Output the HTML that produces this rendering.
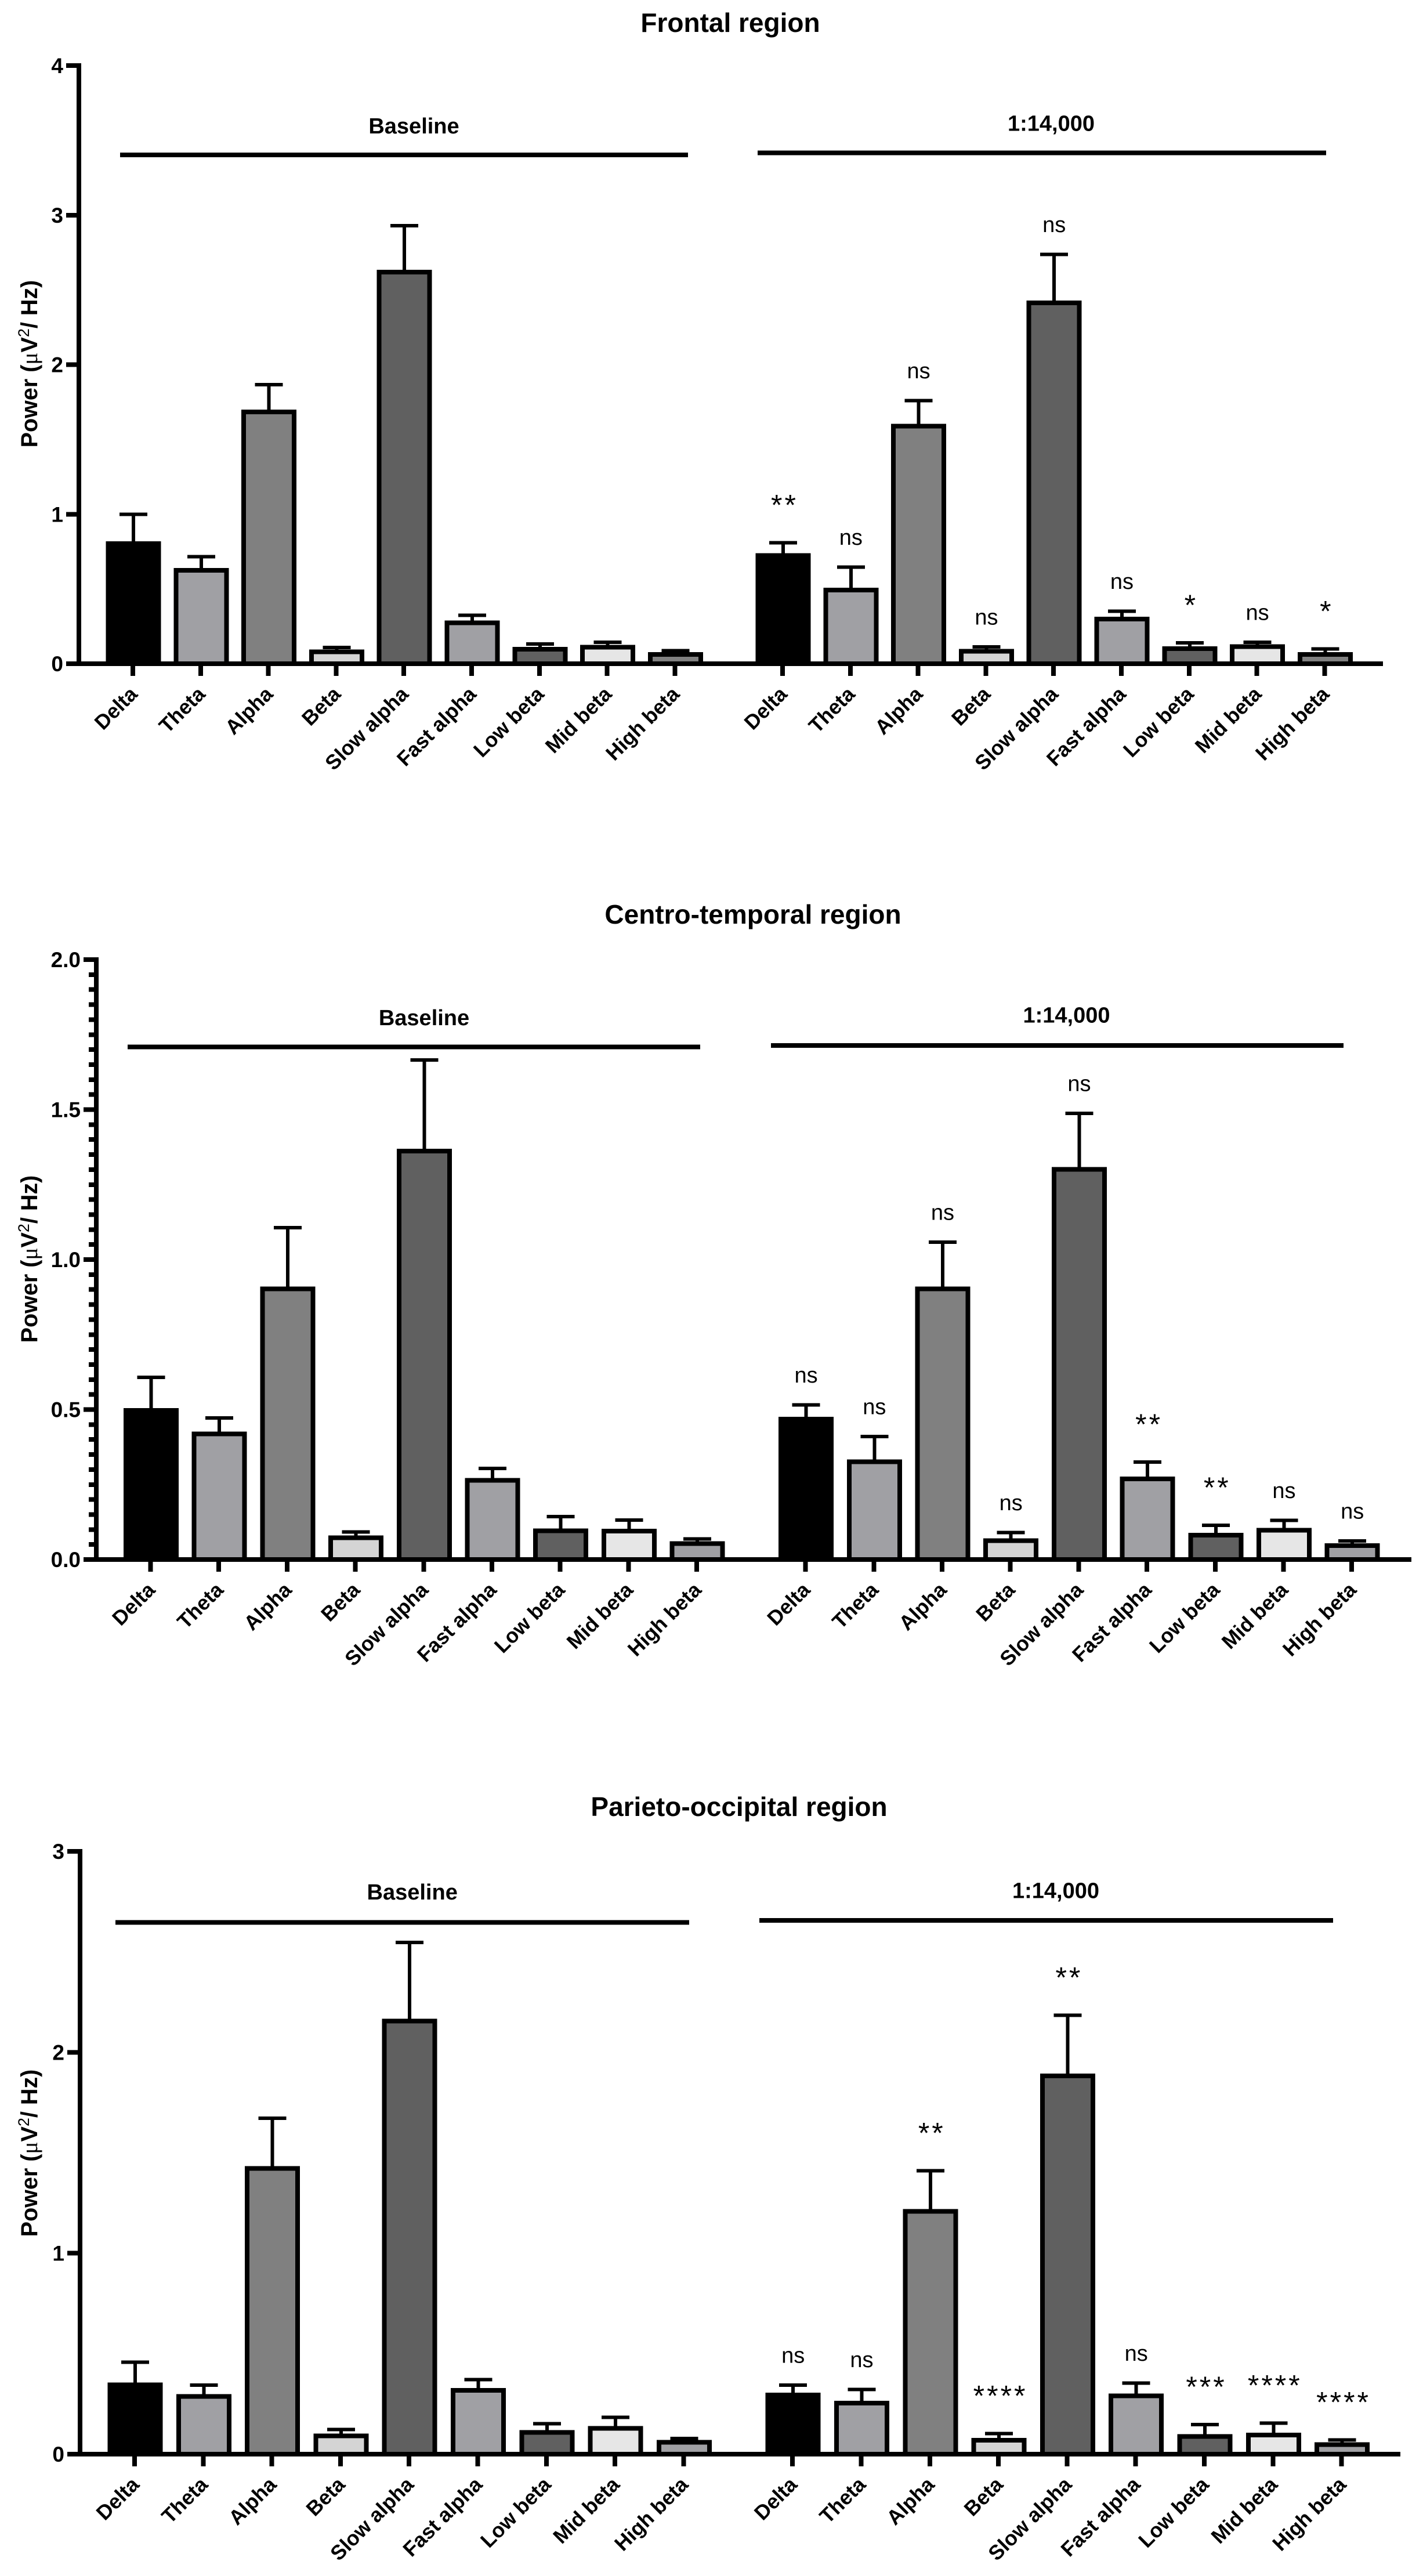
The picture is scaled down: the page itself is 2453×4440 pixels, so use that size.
<!DOCTYPE html>
<html lang="en">
<head>
<meta charset="utf-8">
<title>EEG power by region</title>
<style>
  html, body { margin: 0; padding: 0; background: #fff; }
  svg { display: block; font-family: "Liberation Sans", Arial, sans-serif; }
  .b { font-weight: 700; }
</style>
</head>
<body>
<svg id="figure" xmlns="http://www.w3.org/2000/svg" width="2453" height="4440" viewBox="0 0 2453 4440"></svg>
<script>
var categories = ["Delta", "Theta", "Alpha", "Beta", "Slow alpha", "Fast alpha", "Low beta", "Mid beta", "High beta"];

var frontalTicks = ["0", "1", "2", "3", "4"];
var frontalBaselineMeans = [0.804, 0.624, 1.684, 0.08, 2.618, 0.274, 0.097, 0.111, 0.062];
var frontalBaselineSem = [0.196, 0.091, 0.183, 0.029, 0.312, 0.049, 0.035, 0.033, 0.026];
var frontalDilutionMeans = [0.724, 0.492, 1.588, 0.083, 2.413, 0.298, 0.101, 0.114, 0.062];
var frontalDilutionSem = [0.085, 0.154, 0.172, 0.03, 0.324, 0.053, 0.039, 0.03, 0.036];
var frontalSignificance = ["**", "ns", "ns", "ns", "ns", "ns", "*", "ns", "*"];

var centroTicks = ["0.0", "0.5", "1.0", "1.5", "2.0"];
var centroBaselineMeans = [0.497, 0.419, 0.902, 0.073, 1.362, 0.264, 0.096, 0.0945, 0.053];
var centroBaselineSem = [0.11, 0.053, 0.204, 0.019, 0.303, 0.04, 0.047, 0.037, 0.016];
var centroDilutionMeans = [0.468, 0.326, 0.902, 0.063, 1.301, 0.269, 0.081, 0.098, 0.046];
var centroDilutionSem = [0.047, 0.084, 0.156, 0.027, 0.186, 0.056, 0.033, 0.033, 0.016];
var centroSignificance = ["ns", "ns", "ns", "ns", "ns", "**", "**", "ns", "ns"];

var parietoTicks = ["0", "1", "2", "3"];
var parietoBaselineMeans = [0.345, 0.288, 1.422, 0.091, 2.155, 0.318, 0.108, 0.128, 0.059];
var parietoBaselineSem = [0.113, 0.056, 0.25, 0.031, 0.392, 0.053, 0.044, 0.056, 0.019];
var parietoDilutionMeans = [0.295, 0.254, 1.208, 0.069, 1.882, 0.29, 0.088, 0.096, 0.047];
var parietoDilutionSem = [0.049, 0.068, 0.202, 0.034, 0.303, 0.064, 0.059, 0.059, 0.024];
var parietoSignificance = ["ns", "ns", "**", "****", "**", "ns", "***", "****", "****"];

var barFills = ["#000000", "#a0a0a4", "#808080", "#d4d4d4", "#606060", "#a0a0a4", "#606060", "#e6e6e6", "#a0a0a4"];
var frontalBarFills = ["#000000", "#a0a0a4", "#808080", "#d4d4d4", "#606060", "#a0a0a4", "#606060", "#e6e6e6", "#808080"];

var NS = "http://www.w3.org/2000/svg";
var figure = document.getElementById("figure");

function make(parent, tag, attrs, content) {
  var node = document.createElementNS(NS, tag);
  for (var key in attrs) { node.setAttribute(key, attrs[key]); }
  if (content !== undefined) { node.textContent = content; }
  parent.appendChild(node);
  return node;
}
function slug(text) {
  return text.toLowerCase().replace(/[^a-z0-9]+/g, "-");
}
function solid(parent, x, y, w, h) {
  return make(parent, "rect", { x: x, y: y, width: w, height: h, fill: "#000", "shape-rendering": "crispEdges" });
}

function drawPanel(layout, fills, ticks, baseMeans, baseSem, doseMeans, doseSem, significance) {
  var el;
  var panel = make(figure, "g", {});
  
  

  var yMax = parseFloat(ticks[ticks.length - 1]);
  function yScale(v) { return layout.y0 - v * (layout.y0 - layout.yTop) / yMax; }
  function xScale(start, i) { return start + i * layout.step; }

  el = make(panel, "text", { x: layout.titleX, y: layout.titleY, "text-anchor": "middle", "font-size": 46, class: "b" }, layout.title);
  
  

  el = make(panel, "text", { transform: "translate(64," + layout.yTitleY + ") rotate(-90)", "text-anchor": "middle", "font-size": 39.5, class: "b" });
  
  
  make(el, "tspan", {}, "Power (");
  make(el, "tspan", { "font-weight": 400, "font-family": "Liberation Serif, serif" }, "\u03BC");
  make(el, "tspan", {}, "V");
  make(el, "tspan", { dy: -14, "font-size": 27, "font-weight": 400 }, "2");
  make(el, "tspan", { dy: 14 }, "/ Hz)");

  el = solid(panel, layout.axisX - 4, layout.yTop - 4, 8, layout.y0 - layout.yTop + 8);
  
  

  el = solid(panel, layout.tickLeft, layout.y0 - 4, layout.axisEnd - layout.tickLeft, 8);
  
  

  ticks.forEach(function (label) {
    var v = parseFloat(label);
    var y = yScale(v);
    el = solid(panel, layout.tickLeft, y - 4, layout.axisX - 4 - layout.tickLeft, 8);
    
    
    el = make(panel, "text", { x: layout.tickLeft - 5, y: y + 13, "text-anchor": "end", "font-size": 37, class: "b" }, label);
    
    
  });

  if (layout.minorStep) {
    var count = Math.round(yMax / layout.minorStep);
    for (var m = 1; m < count; m++) {
      if (m % layout.minorPerMajor === 0) { continue; }
      el = solid(panel, layout.axisX - 13, yScale(m * layout.minorStep) - 4, 9, 8);
      
      
    }
  }

  function drawGroup(groupName, start, means, sem, header, sig) {
    el = make(panel, "text", { x: header.textX, y: header.textY, "text-anchor": "middle", "font-size": 38, class: "b" }, groupName);
    
    
    el = solid(panel, header.x1, header.y - 4, header.x2 - header.x1, 8);
    
    

    categories.forEach(function (cat, i) {
      var cx = xScale(start, i);
      var yMean = yScale(means[i]);
      var yUpper = yScale(means[i] + sem[i]);

      el = solid(panel, cx + 1 - 3, yUpper, 6, yMean - yUpper);
      
      
      el = solid(panel, cx + 1 - 24, yUpper - 3, 48, 6);
      
      

      el = make(panel, "rect", { x: cx + 1 - 43.5, y: yMean, width: 87, height: layout.y0 - yMean, fill: fills[i], stroke: "#000", "stroke-width": 8, "shape-rendering": "crispEdges" });
      
      

      el = solid(panel, cx - 4, layout.y0 + 4, 8, 17);
      
      

      var lx = cx + 10;
      var ly = layout.y0 + 54.5;
      el = make(panel, "text", { transform: "translate(" + lx + "," + ly + ") rotate(-45)", "text-anchor": "end", "font-size": 35.5, class: "b" }, cat);
      
      

      if (sig) {
        var isStar = sig[i].charAt(0) === "*";
        var sy = yUpper + (isStar ? -48 : -38.5);
        var attrs = isStar
          ? { x: cx + 3.5, y: sy, "text-anchor": "middle", "font-size": 50, "letter-spacing": 4 }
          : { x: cx + 1, y: sy, "text-anchor": "middle", "font-size": 38 };
        el = make(panel, "text", attrs, sig[i]);
        
        
      }
    });
  }

  drawGroup("Baseline", layout.startA, baseMeans, baseSem, layout.headerA, null);
  drawGroup("1:14,000", layout.startB, doseMeans, doseSem, layout.headerB, significance);
}

drawPanel({
  title: "Frontal region", titleX: 1259, titleY: 55, yTitleY: 627,
  y0: 1144, yTop: 113, axisX: 136, tickLeft: 114, axisEnd: 2384,
  step: 116.8, startA: 229, startB: 1349,
  headerA: { textX: 713.5, textY: 230, x1: 207, x2: 1186, y: 267 },
  headerB: { textX: 1812, textY: 225.5, x1: 1306, x2: 2286, y: 263.5 }
}, frontalBarFills, frontalTicks, frontalBaselineMeans, frontalBaselineSem, frontalDilutionMeans, frontalDilutionSem, frontalSignificance);

drawPanel({
  title: "Centro-temporal region", titleX: 1298, titleY: 1592, yTitleY: 2170,
  y0: 2688, yTop: 1654, axisX: 166, tickLeft: 144, axisEnd: 2433,
  step: 117.7, startA: 259.5, startB: 1388.6,
  minorStep: 0.05, minorPerMajor: 10,
  headerA: { textX: 731, textY: 1767, x1: 220, x2: 1207, y: 1804.5 },
  headerB: { textX: 1838.5, textY: 1762.5, x1: 1329, x2: 2316, y: 1802 }
}, barFills, centroTicks, centroBaselineMeans, centroBaselineSem, centroDilutionMeans, centroDilutionSem, centroSignificance);

drawPanel({
  title: "Parieto-occipital region", titleX: 1274, titleY: 3130, yTitleY: 3711,
  y0: 4230, yTop: 3191, axisX: 138, tickLeft: 116, axisEnd: 2414,
  step: 118.3, startA: 232, startB: 1366.2,
  headerA: { textX: 710.7, textY: 3274, x1: 199, x2: 1188, y: 3313.7 },
  headerB: { textX: 1820, textY: 3271.5, x1: 1309, x2: 2298, y: 3310 }
}, barFills, parietoTicks, parietoBaselineMeans, parietoBaselineSem, parietoDilutionMeans, parietoDilutionSem, parietoSignificance);
</script>
</body>
</html>
